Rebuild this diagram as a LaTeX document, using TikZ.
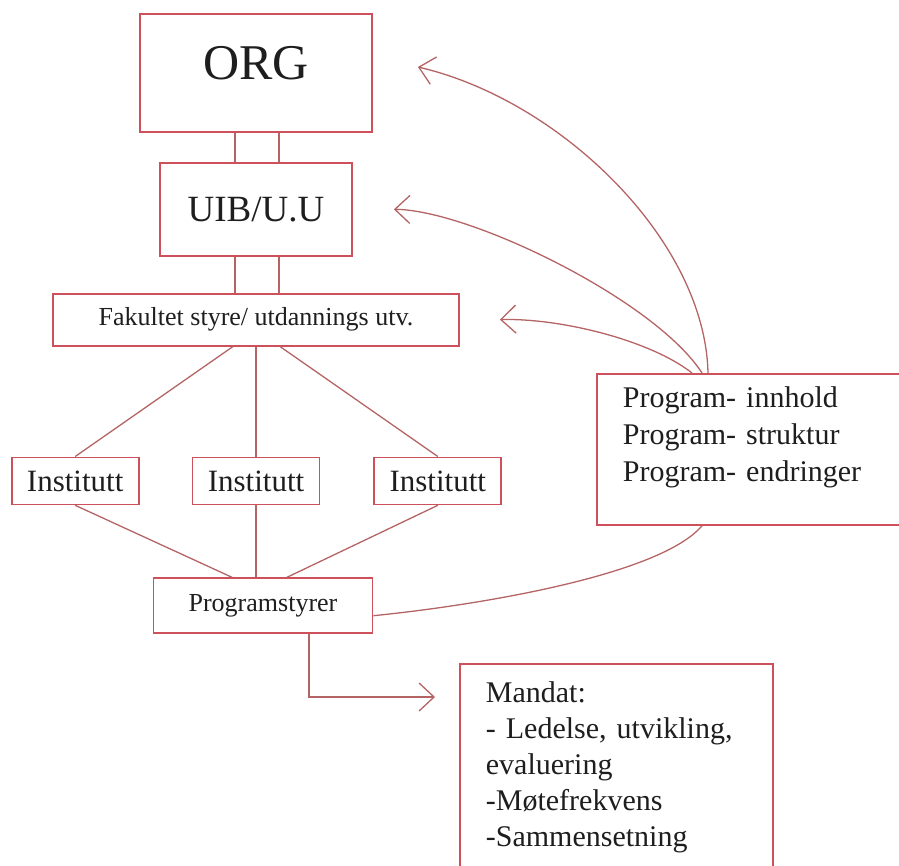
\documentclass[tikz,border=0pt]{standalone}
\usepackage{fontspec}
\setmainfont{Liberation Serif}
\usetikzlibrary{positioning, arrows.meta}
\definecolor{boxred}{RGB}{205,80,90}
\definecolor{linered}{RGB}{180,100,100}
\definecolor{textgray}{RGB}{30,30,30}
\tikzstyle{unit} = [rectangle, draw=boxred, line width=1.8pt, inner sep=0pt,
    text=textgray, text centered]
\tikzstyle{dept} = [unit, minimum width=127pt, minimum height=47pt,
    font=\fontsize{31}{37}\selectfont]
\tikzstyle{listbox} = [rectangle, draw=boxred, line width=1.8pt, inner xsep=26pt,
    inner ysep=0pt, text=textgray, align=left,
    font={\fontsize{30}{37}\selectfont\spaceskip 0.2em\relax}]
\tikzstyle{link} = [linered, line width=1.3pt]
\tikzstyle{arrow} = [link, ->, >={Straight Barb[length=15pt,width=28pt]}]

\begin{document}
\begin{tikzpicture}[x=1pt, y=-1pt]
\useasboundingbox (0,0) rectangle (899,865);
\clip (0,0) rectangle (899,865);

% Nodes
\node (org) [unit, minimum width=232pt, minimum height=118pt, text depth=20pt,
    font=\fontsize{50}{60}\selectfont] at (256,73) {ORG};
\node (uib) [unit, below=29pt of org, minimum width=192pt, minimum height=93pt,
    font=\fontsize{37}{44}\selectfont] {UIB/U.U};
\node (fak) [unit, below=36pt of uib, minimum width=406pt, minimum height=52pt,
    font=\fontsize{26}{31}\selectfont] {Fakultet styre/ utdannings utv.};
\node (inst2) [dept, below=110pt of fak] {Institutt};
\node (inst1) [dept, left=52pt of inst2] {Institutt};
\node (inst3) [dept, right=53pt of inst2] {Institutt};
\node (pstyr) [unit, below=72pt of inst2, xshift=7pt, minimum width=219pt,
    minimum height=55pt, font=\fontsize{26}{31}\selectfont] {Programstyrer};
\node (prog) [listbox, anchor=north west, text width=257pt, text height=34pt,
    text depth=117pt] at (596,373) {Program- innhold\\Program- struktur\\Program- endringer};
\node (mandat) [listbox, anchor=north west, text width=261pt, text height=39pt,
    text depth=240pt, font={\fontsize{30}{36}\selectfont\spaceskip 0.2em\relax}] at (459,663)
    {Mandat:\\- Ledelse, utvikling,\\evaluering\\-Møtefrekvens\\-Sammensetning};

% Lines
\draw [link] ([xshift=-21pt]org.south) -- ([xshift=-21pt]uib.north);
\draw [link] ([xshift=23pt]org.south) -- ([xshift=23pt]uib.north);
\draw [link] ([xshift=-21pt]uib.south) -- ([xshift=-21pt]fak.north);
\draw [link] ([xshift=23pt]uib.south) -- ([xshift=23pt]fak.north);
\draw [link] ([xshift=-23pt]fak.south) -- (inst1.north);
\draw [link] (fak.south) -- (inst2.north);
\draw [link] ([xshift=24pt]fak.south) -- (inst3.north);
\draw [link] (inst1.south) -- ([xshift=-31pt]pstyr.north);
\draw [link] (inst2.south) -- (inst2.south |- pstyr.north);
\draw [link] (inst3.south) -- ([xshift=24pt]pstyr.north);
\draw [link] ([xshift=106pt]prog.south west) .. controls (660,575) and (480,605) .. ([yshift=-10pt]pstyr.east);

% Arrows
\draw [arrow] ([xshift=112pt]prog.north west) .. controls (705,240) and (560,100) .. ([xshift=45pt,yshift=6pt]org.east);
\draw [arrow] ([xshift=106pt]prog.north west) .. controls (655,300) and (470,210) .. ([xshift=41pt]uib.east);
\draw [arrow] ([xshift=96pt]prog.north west) .. controls (650,340) and (560,318) .. ([xshift=40pt]fak.east);
\draw [arrow] ([xshift=46pt]pstyr.south) |- ([xshift=-24pt,yshift=-34pt]mandat.north west);

\end{tikzpicture}
\end{document}
